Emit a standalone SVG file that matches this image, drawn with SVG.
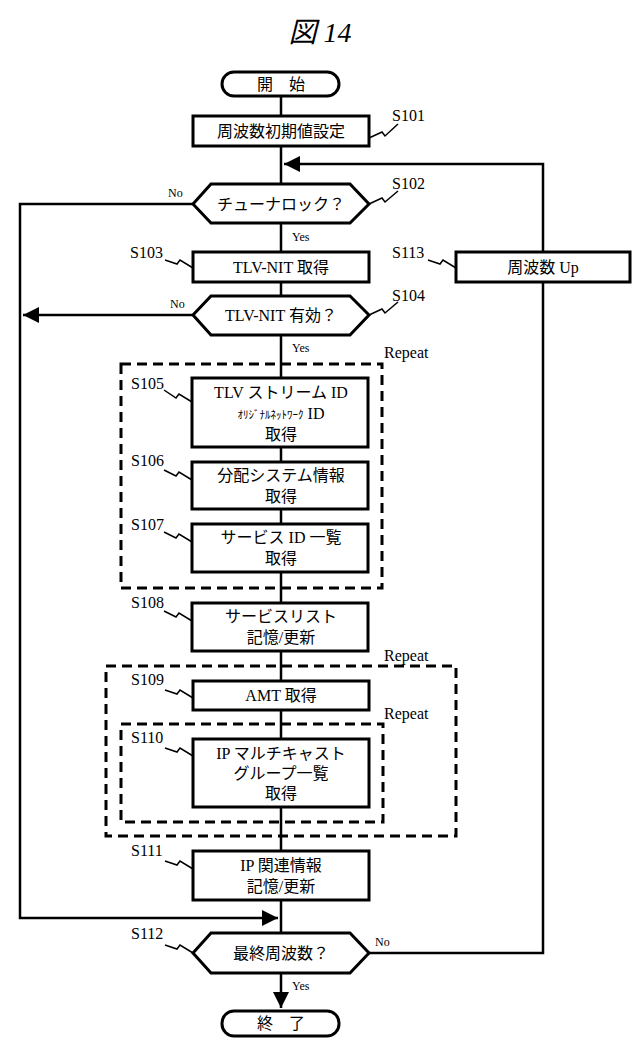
<svg xmlns="http://www.w3.org/2000/svg" width="640" height="1058" viewBox="0 0 640 1058">
<defs>
<marker id="ah" viewBox="0 0 10 10" refX="10" refY="5" markerWidth="6.5" markerHeight="6.5" orient="auto" markerUnits="strokeWidth"><path d="M0,0 L10,5 L0,10 z" fill="#000"/></marker>
<style>
text{font-family:"Liberation Serif","Noto Sans CJK JP",serif;fill:#000}
.t{font-size:16px;text-anchor:middle}
.l{font-size:16px}
.s{font-size:12px}
.e{font-family:"Liberation Serif",serif}
.b{fill:#fff;stroke:#000;stroke-width:3}
.c{fill:none;stroke:#000;stroke-width:2.5}
.w{fill:none;stroke:#000;stroke-width:1.5}
.d{fill:none;stroke:#000;stroke-width:3;stroke-dasharray:10,6}
</style>
</defs>
<rect width="640" height="1058" fill="#fff"/>
<text x="320" y="42" font-size="28" font-style="italic" text-anchor="middle">図 <tspan class="e">14</tspan></text>

<g id="connectors">
<path class="c" d="M281,96 V1008" marker-end="url(#ah)"/>
<path class="c" d="M369,953 H543 V164 H284" marker-end="url(#ah)"/>
<path class="c" d="M193,204 H20 V918 H278" marker-end="url(#ah)"/>
<path class="c" d="M193,315 H23" marker-end="url(#ah)"/>
<text class="s" x="292" y="241">Yes</text>
<text class="s" x="168" y="197">No</text>
<text class="s" x="170" y="308">No</text>
<text class="s" x="292" y="352">Yes</text>
<text class="s" x="375" y="946">No</text>
<text class="s" x="292" y="990">Yes</text>
</g>

<g id="repeat1"><rect class="d" x="121" y="364" width="261" height="224"/><text class="l" x="384" y="358">Repeat</text></g>
<g id="repeat2"><rect class="d" x="106" y="666" width="350" height="170"/><text class="l" x="384" y="661">Repeat</text></g>
<g id="repeat3"><rect class="d" x="121" y="724" width="262" height="98"/><text class="l" x="384" y="719">Repeat</text></g>

<g id="start"><rect class="b" x="222" y="72" width="117" height="24" rx="12"/><text class="t" x="281" y="90">開　始</text></g>
<g id="S101"><rect class="b" x="193" y="116" width="176" height="30"/><text class="t" x="281" y="137">周波数初期値設定</text>
<path class="w" d="M369,138 L382,132 L385,136 L398,124"/><text class="l" x="392" y="121">S101</text></g>
<g id="S102"><polygon class="b" points="193,204 211,184 350,184 369,204 350,223 211,223"/><text class="t" x="281" y="210">チューナロック？</text>
<path class="w" d="M369,204 L382,198 L385,202 L398,191"/><text class="l" x="392" y="189">S102</text></g>
<g id="S103"><rect class="b" x="193" y="252" width="176" height="30"/><text class="t" x="281" y="273"><tspan class="e">TLV-NIT </tspan>取得</text>
<path class="w" d="M193,268 L180,260 L177,264 L165,260"/><text class="l" x="130" y="258">S103</text></g>
<g id="S113"><rect class="b" x="456" y="252" width="174" height="30"/><text class="t" x="543" y="273">周波数<tspan class="e"> Up</tspan></text>
<path class="w" d="M456,268 L443,260 L440,264 L428,260"/><text class="l" x="392" y="258">S113</text></g>
<g id="S104"><polygon class="b" points="193,315 211,296 350,296 369,315 350,335 211,335"/><text class="t" x="281" y="321"><tspan class="e">TLV-NIT </tspan>有効？</text>
<path class="w" d="M369,315 L382,309 L385,313 L398,302"/><text class="l" x="392" y="301">S104</text></g>
<g id="S105"><rect class="b" x="192" y="378" width="176" height="69"/><text class="t" x="281" y="398"><tspan class="e">TLV </tspan>ストリーム<tspan class="e"> ID</tspan></text><text class="t" x="281" y="419"><tspan font-size="11">ｵﾘｼﾞﾅﾙﾈｯﾄﾜｰｸ</tspan><tspan class="e"> ID</tspan></text><text class="t" x="281" y="440">取得</text>
<path class="w" d="M192,402 L179,394 L176,398 L164,390"/><text class="l" x="131" y="389">S105</text></g>
<g id="S106"><rect class="b" x="192" y="462" width="176" height="47"/><text class="t" x="281" y="481">分配システム情報</text><text class="t" x="281" y="502">取得</text>
<path class="w" d="M192,480 L179,472 L176,476 L164,470"/><text class="l" x="131" y="466">S106</text></g>
<g id="S107"><rect class="b" x="192" y="524" width="176" height="48"/><text class="t" x="281" y="543">サービス<tspan class="e"> ID </tspan>一覧</text><text class="t" x="281" y="564">取得</text>
<path class="w" d="M192,542 L179,534 L176,538 L164,532"/><text class="l" x="131" y="530">S107</text></g>
<g id="S108"><rect class="b" x="192" y="603" width="176" height="48"/><text class="t" x="281" y="622">サービスリスト</text><text class="t" x="281" y="643">記憶<tspan class="e">/</tspan>更新</text>
<path class="w" d="M192,621 L179,613 L176,617 L164,611"/><text class="l" x="131" y="608">S108</text></g>
<g id="S109"><rect class="b" x="193" y="681" width="176" height="29"/><text class="t" x="281" y="701"><tspan class="e">AMT </tspan>取得</text>
<path class="w" d="M193,698 L180,690 L177,694 L165,690"/><text class="l" x="131" y="685">S109</text></g>
<g id="S110"><rect class="b" x="193" y="739" width="176" height="68"/><text class="t" x="281" y="759"><tspan class="e">IP </tspan>マルチキャスト</text><text class="t" x="281" y="779">グループ一覧</text><text class="t" x="281" y="799">取得</text>
<path class="w" d="M193,756 L180,748 L177,752 L165,748"/><text class="l" x="131" y="743">S110</text></g>
<g id="S111"><rect class="b" x="193" y="851" width="176" height="49"/><text class="t" x="281" y="871"><tspan class="e">IP </tspan>関連情報</text><text class="t" x="281" y="892">記憶<tspan class="e">/</tspan>更新</text>
<path class="w" d="M193,869 L180,861 L177,865 L165,861"/><text class="l" x="131" y="856">S111</text></g>
<g id="S112"><polygon class="b" points="193,953 211,933 350,933 369,953 350,973 211,973"/><text class="t" x="281" y="959">最終周波数？</text>
<path class="w" d="M193,953 L180,945 L177,949 L165,945"/><text class="l" x="131" y="939">S112</text></g>
<g id="end"><rect class="b" x="222" y="1011" width="117" height="25" rx="12"/><text class="t" x="281" y="1029">終　了</text></g>
</svg>
